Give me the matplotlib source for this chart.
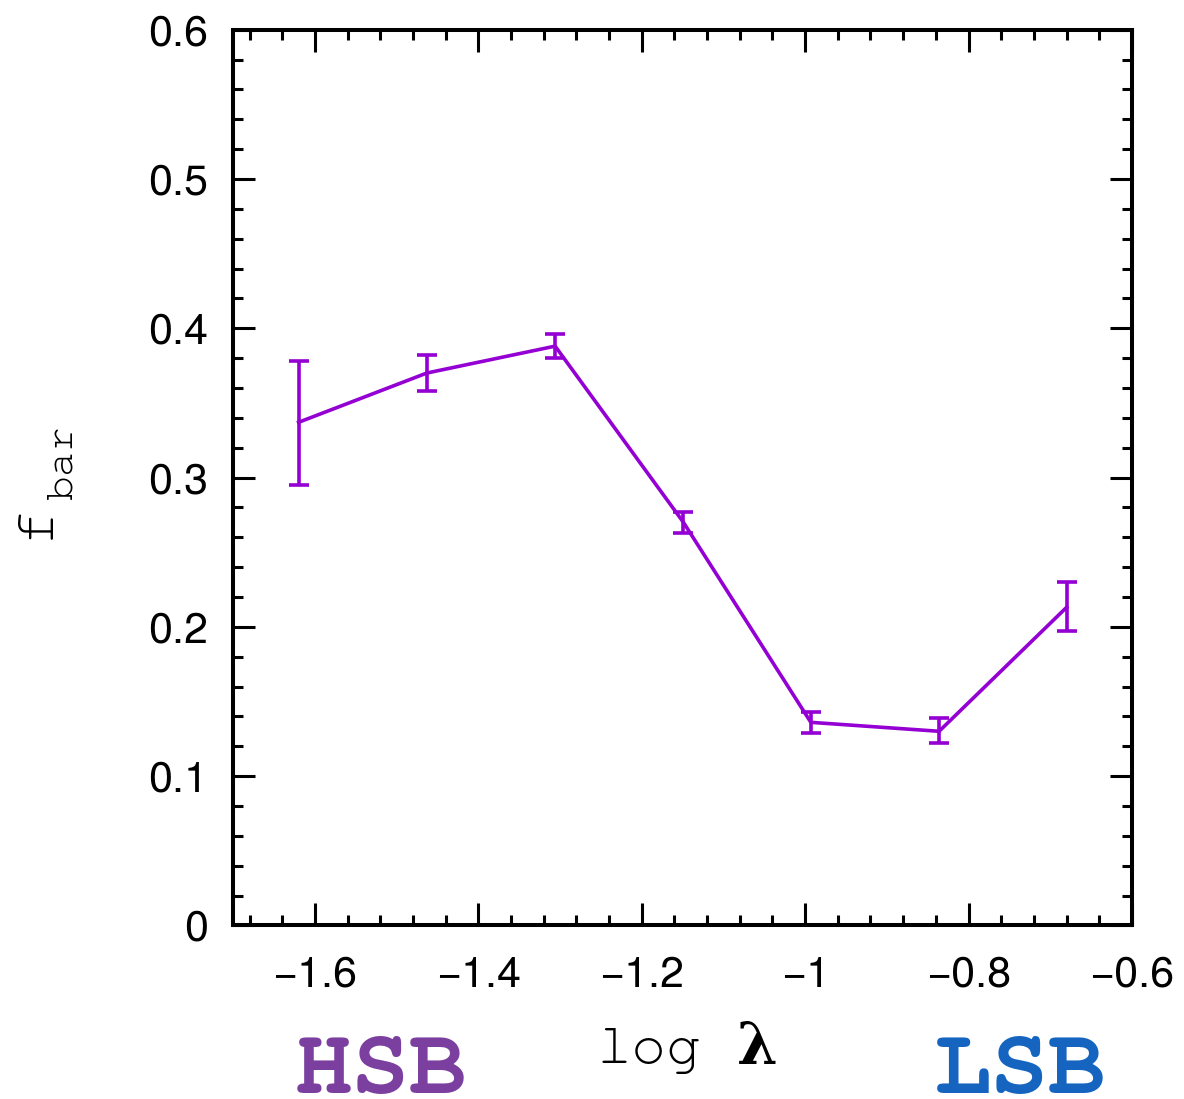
import numpy as np
import matplotlib
matplotlib.use('Agg')
import matplotlib.pyplot as plt
from matplotlib.ticker import MultipleLocator

plt.rcParams['font.family'] = ['TeX Gyre Heros', 'Liberation Sans', 'DejaVu Sans']
mono = ['TeX Gyre Cursor', 'Courier Prime', 'DejaVu Sans Mono']

# data
log_lambda = [-1.620, -1.463, -1.306, -1.149, -0.993, -0.836, -0.680]
f_bar = [0.337, 0.370, 0.388, 0.270, 0.136, 0.130, 0.213]
err_lo = [0.042, 0.012, 0.008, 0.007, 0.007, 0.008, 0.016]
err_hi = [0.041, 0.012, 0.008, 0.007, 0.007, 0.009, 0.017]

xticks = [-1.6, -1.4, -1.2, -1.0, -0.8, -0.6]
xticklabels = ['\u22121.6', '\u22121.4', '\u22121.2', '\u22121', '\u22120.8', '\u22120.6']
yticks = [0, 0.1, 0.2, 0.3, 0.4, 0.5, 0.6]
yticklabels = ['0', '0.1', '0.2', '0.3', '0.4', '0.5', '0.6']

fig = plt.figure(figsize=(11.84, 10.99), dpi=100)
ax = fig.add_axes([0.197, 0.158, 0.759, 0.815])

ax.errorbar(log_lambda, f_bar, yerr=[err_lo, err_hi], color='#9400D3',
            lw=2.6, elinewidth=2.6, capsize=7.5, capthick=2.6)

ax.set_xlim(-1.7, -0.6)
ax.set_ylim(0, 0.6)
ax.set_xticks(xticks)
ax.set_xticklabels(xticklabels)
ax.set_yticks(yticks)
ax.set_yticklabels(yticklabels)
ax.xaxis.set_minor_locator(MultipleLocator(0.04))
ax.yaxis.set_minor_locator(MultipleLocator(0.02))

ax.tick_params(which='both', direction='in', top=True, right=True, width=2.2, labelsize=31)
ax.tick_params(which='major', length=15.5)
ax.tick_params(which='minor', length=7.5)
ax.tick_params(axis='x', pad=22)
ax.tick_params(axis='y', pad=18)
for s in ax.spines.values():
    s.set_linewidth(2.9)

# y label f_bar
fig.text(36 / 1184, 1 - 522 / 1099, 'f', family=mono, rotation=90, fontsize=42,
         ha='center', va='center')
fig.text(63 / 1184, 1 - 462 / 1099, 'bar', family=mono, rotation=90, fontsize=30,
         ha='center', va='center')

# x label log lambda
fig.text(649 / 1184, 1 - 1063 / 1099, 'log', family=mono, fontsize=42,
         ha='center', va='baseline')
fig.text(757 / 1184, 1 - 1064 / 1099, '\u03bb', family=['DejaVu Serif'],
         fontweight='bold', fontsize=42, ha='center', va='baseline')

fig.text(381 / 1184, 1 - 1093 / 1099, 'HSB', family=mono, fontweight='bold', fontsize=69,
         color='#7B3FA0', ha='center', va='baseline')
fig.text(1020 / 1184, 1 - 1093 / 1099, 'LSB', family=mono, fontweight='bold', fontsize=69,
         color='#1565C0', ha='center', va='baseline')

fig.savefig('out.png', dpi=100)
